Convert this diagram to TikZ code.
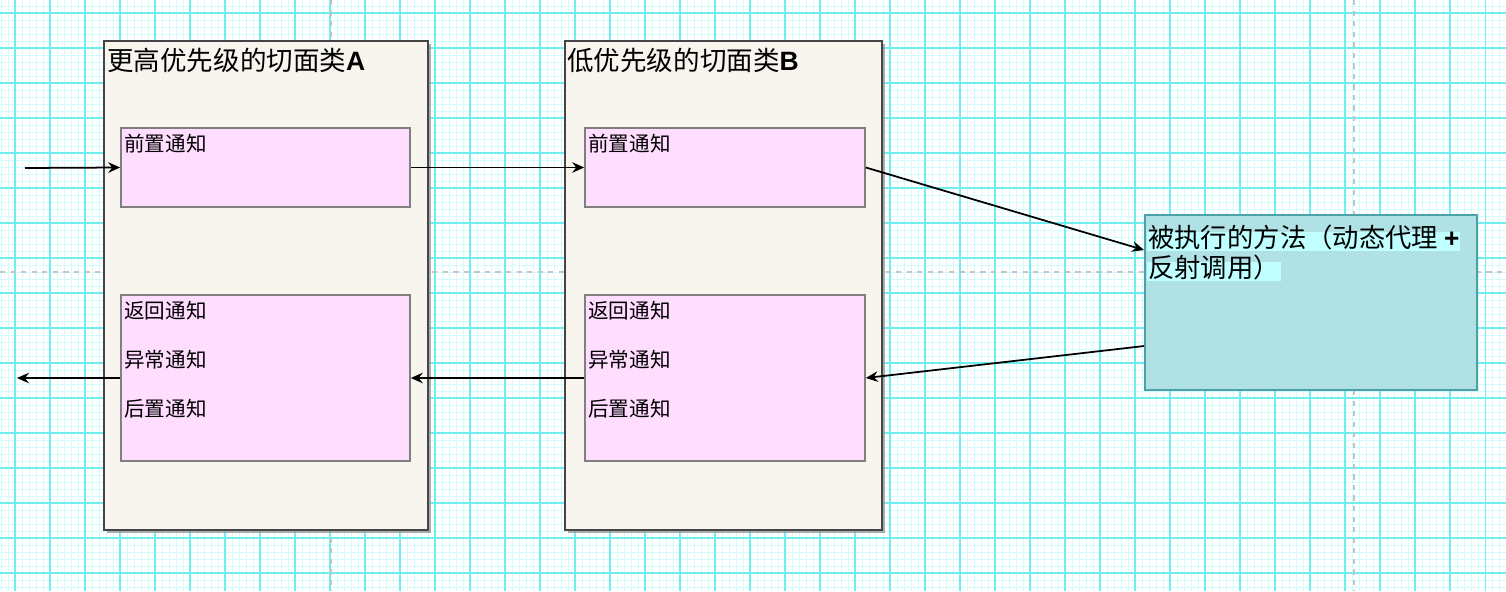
\documentclass[tikz,border=0pt]{standalone}
\usepackage{fontspec}
\newfontfamily\cjk{Noto Sans CJK SC}
\newfontfamily\arial{Liberation Sans}
\usepackage{xcolor}
\usepackage{tikz}
\usetikzlibrary{positioning, calc, arrows.meta, fit, shadows}
\definecolor{GridMinor}{HTML}{D4FBFB}
\definecolor{GridMajor}{HTML}{6EEEEE}
\definecolor{PageLine}{HTML}{C4C4C4}
\definecolor{ClassFill}{HTML}{F7F5EE}
\definecolor{ClassLine}{HTML}{454545}
\definecolor{AdviceFill}{HTML}{FFDDFF}
\definecolor{AdviceLine}{HTML}{7F7F7F}
\definecolor{MethodFill}{HTML}{B0E2E5}
\definecolor{MethodLine}{HTML}{4DA0A6}
\definecolor{MethodHi}{HTML}{C0FFFF}

\tikzset{
  gridMinor/.style={GridMinor, line width=0.55pt},
  gridMajor/.style={GridMajor, line width=0.6pt},
  pageBreak/.style={PageLine, dashed, line width=0.6pt},
  classBox/.style={draw=ClassLine, fill=ClassFill, line width=1.1pt, inner sep=0pt,
    drop shadow={shadow xshift=0.06cm, shadow yshift=-0.06cm, fill=black!40, opacity=0.8}},
  adviceBox/.style={draw=AdviceLine, fill=AdviceFill, line width=0.9pt, inner sep=0pt},
  methodBox/.style={draw=MethodLine, fill=MethodFill, line width=1.1pt, inner sep=0pt},
  titleText/.style={anchor=base west, inner sep=0pt, font=\cjk\fontsize{15.1}{18}\selectfont},
  adviceText/.style={anchor=base west, inner sep=0pt, align=left, font=\cjk\fontsize{11.7}{27.8}\selectfont},
  methodText/.style={anchor=base west, inner xsep=0.5pt, inner ysep=0pt, fill=MethodHi,
    text height=0.86em, text depth=0.2em, font=\cjk\fontsize{15}{18}\selectfont},
  flow/.style={-{Stealth[length=2.4mm, width=2.1mm, inset=0.8mm]}, line width=1pt, black},
}

\begin{document}
\begin{tikzpicture}[x=0.02cm, y=-0.02cm]
  \useasboundingbox (0,0) rectangle (1506,591);
  \fill[white] (0,0) rectangle (1506,591);
  % grid paper
  \foreach \x in {1,8,...,1506} \draw[gridMinor] (\x,0) -- (\x,591);
  \foreach \y in {6,13,...,591} \draw[gridMinor] (0,\y) -- (1506,\y);
  \foreach \x in {15,50,...,1506} \draw[gridMajor] (\x,0) -- (\x,591);
  \foreach \y in {13,48,...,591} \draw[gridMajor] (0,\y) -- (1506,\y);
  \draw[pageBreak] (331,0) -- (331,591);
  \draw[pageBreak] (1354,0) -- (1354,591);
  \draw[pageBreak] (0,272) -- (1506,272);

  % aspect classes
  \node[classBox, fit={(104,41) (428,530)}] (classA) {};
  \node[classBox, fit={(565,41) (882,530)}] (classB) {};
  \node[titleText] (titleA) at (107,71) {更高优先级的切面类{\arial\bfseries A}};
  \node[titleText] (titleB) at (567,71) {低优先级的切面类{\arial\bfseries B}};

  % advices (multi-line text sits on its last line)
  \node[adviceBox, fit={(121,128) (410,207)}] (beforeA) {};
  \node[adviceBox, fit={(121,295) (410,461)}] (postA) {};
  \node[adviceBox, fit={(585,128) (865,207)}] (beforeB) {};
  \node[adviceBox, fit={(585,295) (865,461)}] (postB) {};
  \node[adviceText] (beforeTextA) at (124,152) {前置通知};
  \node[adviceText] (postTextA) at (124,416) {返回通知\\异常通知\\后置通知};
  \node[adviceText] (beforeTextB) at (588,152) {前置通知};
  \node[adviceText] (postTextB) at (588,416) {返回通知\\异常通知\\后置通知};

  % target method
  \node[methodBox, fit={(1145,215) (1477,390)}] (method) {};
  \node[methodText] (methodLine1) at (1147,247) {被执行的方法（动态代理 {\arial\bfseries +}};
  \node[methodText] (methodLine2) at (1147,277) {反射调用）};

  % call flow
  \coordinate (inPt) at (25,168);
  \coordinate (outPt) at (17,378);
  \draw[flow] (inPt) -- (beforeA.west);
  \draw[flow] (beforeA.east) -- (beforeB.west);
  \draw[flow] (beforeB.east) -- ($(method.north west)+(0,36)$);
  \draw[flow] ($(method.north west)+(0,132)$) -- (postB.east);
  \draw[flow] (postB.west) -- (postA.east);
  \draw[flow] (postA.west) -- (outPt);
\end{tikzpicture}
\end{document}
